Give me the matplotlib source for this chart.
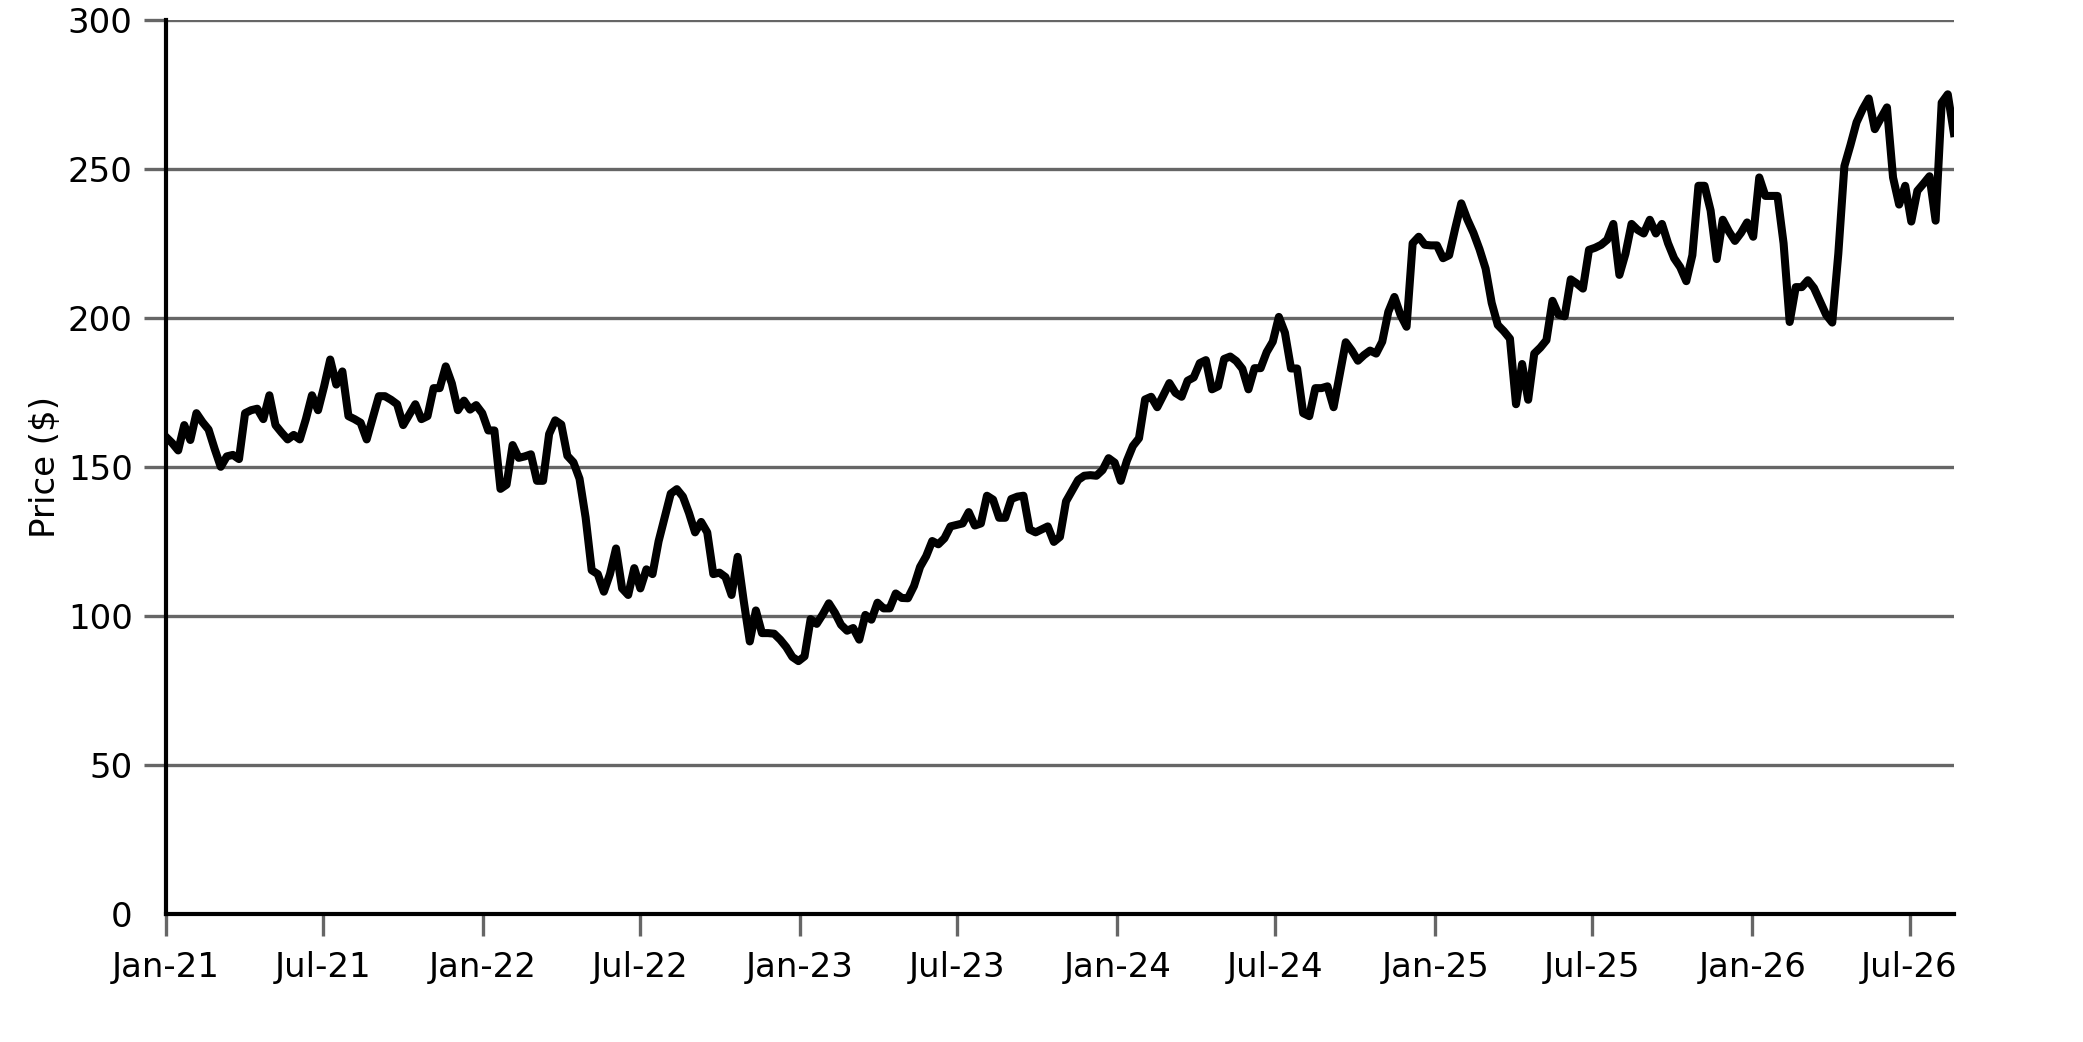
import pandas as pd
import matplotlib
matplotlib.use("Agg")
import matplotlib.pyplot as plt
import matplotlib.dates as mdates

# weekly closing price, first week = 2021-01-01
START = "2021-01-01"
price = [
    160, 158, 155.5, 164, 159, 168, 165, 162.5, 156, 150,
    153.5, 154, 152.6, 168, 169, 169.5, 166, 174, 164, 161.5,
    159.2, 160.7, 159.2, 166, 174, 169, 177, 186, 177.6, 182,
    167, 166, 164.8, 159.2, 166.5, 173.7, 173.7, 172.5, 171, 164,
    167.5, 171, 166, 167, 176.4, 176.4, 183.7, 178, 169, 172.2,
    169.2, 170.7, 168, 162.2, 162.2, 142.6, 144, 157.3, 153, 153.5,
    154.2, 145.3, 145.3, 161, 165.6, 164.2, 153.7, 151.5, 146, 133,
    115.3, 114, 108.1, 114, 122.6, 109.2, 107, 116, 109.2, 115.6,
    114, 125, 133, 141, 142.5, 140, 134.5, 128, 131.5, 128,
    114, 114.5, 113, 107, 119.8, 105, 91.4, 101.8, 94.2, 94.2,
    94, 92, 89.5, 86.2, 84.8, 86.4, 98.9, 97.3, 100.5, 104.2,
    101, 97, 95, 95.9, 92, 100.3, 98.7, 104.4, 102.5, 102.5,
    107.5, 106, 105.9, 110, 116.4, 120, 125.1, 124, 126, 130,
    130.5, 131, 134.8, 130.3, 131, 140.3, 139, 132.9, 132.9, 139.2,
    140, 140.3, 129, 128, 129, 130, 124.8, 126.5, 138.4, 142,
    145.6, 147, 147.2, 147, 148.9, 152.9, 151.4, 145.3, 152, 157,
    159.6, 172.6, 173.5, 170, 174, 178.1, 174.8, 173.5, 178.9, 180,
    184.8, 185.8, 176, 177, 186.2, 187, 185.5, 182.9, 176, 183.1,
    183.1, 188.5, 192, 200.3, 195, 183, 183, 168, 167, 176.4,
    176.4, 177, 170, 181, 191.8, 189, 185.6, 187.5, 189, 188,
    192, 202, 207, 201, 197, 225, 227.2, 224.5, 224.3, 224.3,
    220, 221, 230, 238.4, 233, 228.5, 223, 216.5, 205, 197.6,
    195.5, 193, 171, 184.5, 172.5, 188, 190, 192.5, 205.7, 201,
    200.5, 212.9, 211.5, 209.8, 222.8, 223.5, 224.5, 226.2, 231.5, 214.4,
    221.5, 231.5, 229.5, 228.3, 232.9, 228.3, 231.5, 225, 220, 217,
    212.3, 221, 244.3, 244.3, 236, 219.7, 232.9, 229, 225.8, 228.5,
    232, 227.2, 247.1, 240.9, 240.9, 240.9, 225, 198.6, 210.3, 210.3,
    212.6, 210, 205.5, 201, 198.4, 221.5, 250.9, 258, 265.6, 270,
    273.6, 263.3, 267, 270.6, 247.1, 238, 244.3, 232.3, 242.6, 245,
    247.5, 232.6, 272.2, 275, 262,
]
yticks = [0, 50, 100, 150, 200, 250, 300]

GRID = "#666666"


def main():
    dates = pd.date_range(START, periods=len(price), freq="7D")

    fig = plt.figure(figsize=(20.83, 10.42), dpi=100)
    ax = fig.add_axes([0.0797, 0.123, 0.8583, 0.858])

    ax.plot(dates, price, color="black", lw=5.8, zorder=3)

    ax.set_ylim(0, 300)
    ax.set_yticks(yticks)
    ax.set_xlim(dates[0], dates[-1])
    ax.xaxis.set_major_locator(mdates.MonthLocator(bymonth=[1, 7]))
    ax.xaxis.set_major_formatter(mdates.DateFormatter("%b-%y"))

    ax.grid(axis="y", color=GRID, lw=2.4, zorder=1)
    ax.set_axisbelow(True)

    for s in ["top", "right"]:
        ax.spines[s].set_visible(False)
    for s in ["left", "bottom"]:
        ax.spines[s].set_color("black")
        ax.spines[s].set_linewidth(3.0)
        ax.spines[s].set_zorder(4)

    ax.tick_params(axis="both", length=16, width=2.4, color=GRID,
                   labelsize=24.5, labelcolor="black")
    ax.tick_params(axis="x", pad=11)
    ax.tick_params(axis="y", pad=8)
    # no tick mark at the zero line
    ax.yaxis.get_major_ticks()[0].tick1line.set_visible(False)
    ax.set_ylabel("Price ($)", fontsize=24.5, labelpad=4)

    fig.savefig("out.png", dpi=100)
    plt.close(fig)


if __name__ == "__main__":
    main()
